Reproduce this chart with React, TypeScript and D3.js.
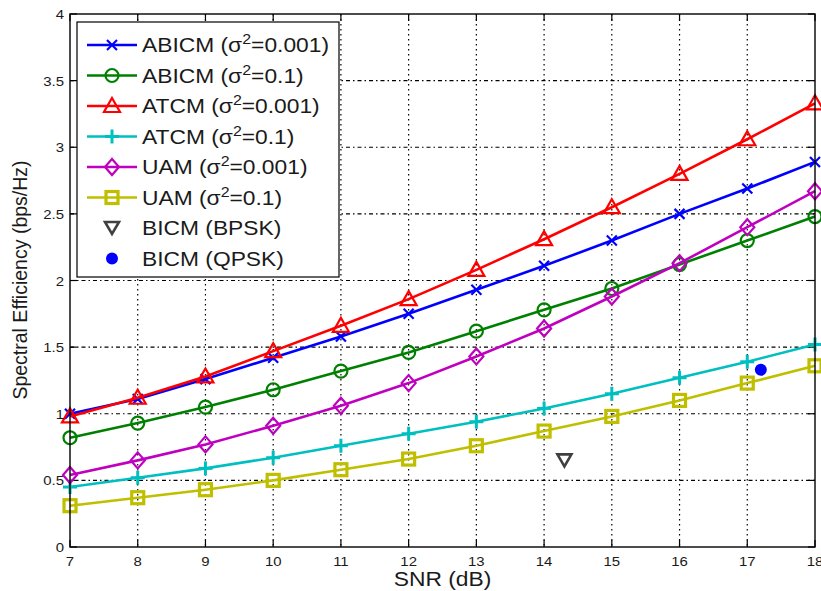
import React from "react";
import * as d3 from "d3";

const snr = [7, 8, 9, 10, 11, 12, 13, 14, 15, 16, 17, 18];
const abicm001 = [1.0, 1.11, 1.26, 1.42, 1.58, 1.75, 1.93, 2.11, 2.3, 2.5, 2.69, 2.89];
const abicm01 = [0.82, 0.93, 1.05, 1.18, 1.32, 1.46, 1.62, 1.78, 1.94, 2.12, 2.3, 2.48];
const atcm001 = [0.98, 1.12, 1.28, 1.47, 1.66, 1.86, 2.08, 2.31, 2.55, 2.8, 3.06, 3.33];
const atcm01 = [0.45, 0.52, 0.59, 0.67, 0.76, 0.85, 0.94, 1.04, 1.15, 1.27, 1.39, 1.52];
const uam001 = [0.54, 0.65, 0.77, 0.91, 1.06, 1.23, 1.43, 1.64, 1.88, 2.13, 2.4, 2.67];
const uam01 = [0.31, 0.37, 0.43, 0.5, 0.58, 0.66, 0.76, 0.87, 0.98, 1.1, 1.23, 1.36];
const bicmBpsk = [14.3, 0.65];
const bicmQpsk = [17.2, 1.33];
const xTicks = [7, 8, 9, 10, 11, 12, 13, 14, 15, 16, 17, 18];
const yTicks = [0, 0.5, 1, 1.5, 2, 2.5, 3, 3.5, 4];

type Series = { name: string; sig: string; color: string; marker: string; values: number[] };
const series: Series[] = [
  { name: "ABICM", sig: "0.001", color: "#0000ff", marker: "x", values: abicm001 },
  { name: "ABICM", sig: "0.1", color: "#008000", marker: "o", values: abicm01 },
  { name: "ATCM", sig: "0.001", color: "#ff0000", marker: "^", values: atcm001 },
  { name: "ATCM", sig: "0.1", color: "#00bfbf", marker: "+", values: atcm01 },
  { name: "UAM", sig: "0.001", color: "#bf00bf", marker: "d", values: uam001 },
  { name: "UAM", sig: "0.1", color: "#bfbf00", marker: "s", values: uam01 },
];

const L = 70, R = 815, T = 14, B = 547;
const x = d3.scaleLinear().domain([7, 18]).range([L, R]);
const y = d3.scaleLinear().domain([0, 4]).range([B, T]);
const FONT = "'Liberation Sans', Arial, Helvetica, sans-serif";

function Marker({ type, cx, cy, color }: { type: string; cx: number; cy: number; color: string }) {
  const sw = 2.2;
  switch (type) {
    case "x":
      return (
        <g stroke={color} strokeWidth={sw}>
          <line x1={cx - 5} y1={cy - 5} x2={cx + 5} y2={cy + 5} />
          <line x1={cx - 5} y1={cy + 5} x2={cx + 5} y2={cy - 5} />
        </g>
      );
    case "o":
      return <circle cx={cx} cy={cy} r={6.5} fill="none" stroke={color} strokeWidth={sw} />;
    case "^":
      return (
        <path
          d={`M${cx},${cy - 8} L${cx + 8},${cy + 6} L${cx - 8},${cy + 6} Z`}
          fill="none"
          stroke={color}
          strokeWidth={sw}
        />
      );
    case "v":
      return (
        <path
          d={`M${cx - 7},${cy - 6} L${cx + 7},${cy - 6} L${cx},${cy + 6} Z`}
          fill="none"
          stroke={color}
          strokeWidth={2.6}
        />
      );
    case "+":
      return (
        <g stroke={color} strokeWidth={3}>
          <line x1={cx - 7} y1={cy} x2={cx + 7} y2={cy} />
          <line x1={cx} y1={cy - 7} x2={cx} y2={cy + 7} />
        </g>
      );
    case "d":
      return (
        <path
          d={`M${cx},${cy - 8} L${cx + 7},${cy} L${cx},${cy + 8} L${cx - 7},${cy} Z`}
          fill="none"
          stroke={color}
          strokeWidth={sw}
        />
      );
    case "s":
      return (
        <rect x={cx - 6} y={cy - 6} width={12} height={12} fill="none" stroke={color} strokeWidth={3.2} />
      );
    case "dot":
      return <circle cx={cx} cy={cy} r={6} fill={color} />;
  }
  return null;
}

export default function App() {
  const line = d3
    .line<number>()
    .x((_, i) => x(snr[i]))
    .y((v) => y(v));

  const legX = 77, legY = 22, legW = 262, legH = 255;
  const rowY = (i: number) => legY + 23 + i * 30.5;
  const TS = 1.15;

  return (
    <svg width={821} height={591} style={{ position: "absolute", left: 0, top: 0, background: "#fff" }}>
      <rect x={0} y={0} width={821} height={591} fill="#fff" />
      {/* grid */}
      <g stroke="#000" strokeWidth={1.2}>
        {xTicks.slice(1, -1).map((t) => (
          <line key={"gx" + t} x1={x(t)} x2={x(t)} y1={T} y2={B} strokeDasharray="1.5,3.5" />
        ))}
        {yTicks.slice(1, -1).map((t) => (
          <line key={"gy" + t} x1={L} x2={R} y1={y(t)} y2={y(t)} strokeDasharray="4,3,1.5,3" />
        ))}
      </g>
      {/* ticks */}
      <g stroke="#000" strokeWidth={1.2}>
        {xTicks.map((t) => (
          <g key={"tx" + t}>
            <line x1={x(t)} x2={x(t)} y1={B} y2={B - 7} />
            <line x1={x(t)} x2={x(t)} y1={T} y2={T + 7} />
          </g>
        ))}
        {yTicks.map((t) => (
          <g key={"ty" + t}>
            <line x1={L} x2={L + 7} y1={y(t)} y2={y(t)} />
            <line x1={R} x2={R - 7} y1={y(t)} y2={y(t)} />
          </g>
        ))}
      </g>
      {/* series */}
      {series.map((s, si) => (
        <g key={"s" + si}>
          <path d={line(s.values) || ""} fill="none" stroke={s.color} strokeWidth={2.6} />
          {s.values.map((v, i) => (
            <Marker key={i} type={s.marker} cx={x(snr[i])} cy={y(v)} color={s.color} />
          ))}
        </g>
      ))}
      <Marker type="v" cx={x(bicmBpsk[0])} cy={y(bicmBpsk[1])} color="#404040" />
      <Marker type="dot" cx={x(bicmQpsk[0])} cy={y(bicmQpsk[1])} color="#0000ff" />
      {/* axes box */}
      <rect x={L} y={T} width={R - L} height={B - T} fill="none" stroke="#000" strokeWidth={1.4} />
      {/* tick labels */}
      <g fontFamily={FONT} fontSize={13} fill="#1a1a1a">
        {xTicks.map((t) => (
          <text
            key={"lx" + t}
            transform={`translate(${x(t)}, ${B + 19}) scale(${TS},1)`}
            textAnchor="middle"
          >
            {t}
          </text>
        ))}
        {yTicks.map((t) => (
          <text
            key={"ly" + t}
            transform={`translate(${L - 6}, ${y(t) + 5}) scale(${TS},1)`}
            textAnchor="end"
          >
            {t}
          </text>
        ))}
      </g>
      <text
        transform={`translate(${(L + R) / 2}, 586) scale(1.17,1)`}
        textAnchor="middle"
        fontFamily={FONT}
        fontSize={19.5}
        fill="#1a1a1a"
      >
        SNR (dB)
      </text>
      <text
        transform={`translate(27, 280) rotate(-90)`}
        textAnchor="middle"
        fontFamily={FONT}
        fontSize={19.5}
        fill="#1a1a1a"
      >
        Spectral Efficiency (bps/Hz)
      </text>
      {/* legend */}
      <rect x={legX} y={legY} width={legW} height={legH} fill="#fff" stroke="#000" strokeWidth={1.2} />
      {series.map((s, i) => {
        const cy = rowY(i);
        return (
          <g key={"lg" + i}>
            <line x1={legX + 10} x2={legX + 60} y1={cy} y2={cy} stroke={s.color} strokeWidth={2.6} />
            <Marker type={s.marker} cx={legX + 35} cy={cy} color={s.color} />
            <text
              transform={`translate(${legX + 65}, ${cy + 7}) scale(1.14,1)`}
              fontFamily={FONT}
              fontSize={20}
              fill="#1a1a1a"
            >
              {s.name} (σ
              <tspan dy={-8} fontSize={14}>
                2
              </tspan>
              <tspan dy={8}>={s.sig})</tspan>
            </text>
          </g>
        );
      })}
      <Marker type="v" cx={legX + 35} cy={rowY(6)} color="#404040" />
      <text
        transform={`translate(${legX + 65}, ${rowY(6) + 7}) scale(1.14,1)`}
        fontFamily={FONT}
        fontSize={20}
        fill="#1a1a1a"
      >
        BICM (BPSK)
      </text>
      <Marker type="dot" cx={legX + 35} cy={rowY(7)} color="#0000ff" />
      <text
        transform={`translate(${legX + 65}, ${rowY(7) + 7}) scale(1.14,1)`}
        fontFamily={FONT}
        fontSize={20}
        fill="#1a1a1a"
      >
        BICM (QPSK)
      </text>
    </svg>
  );
}
